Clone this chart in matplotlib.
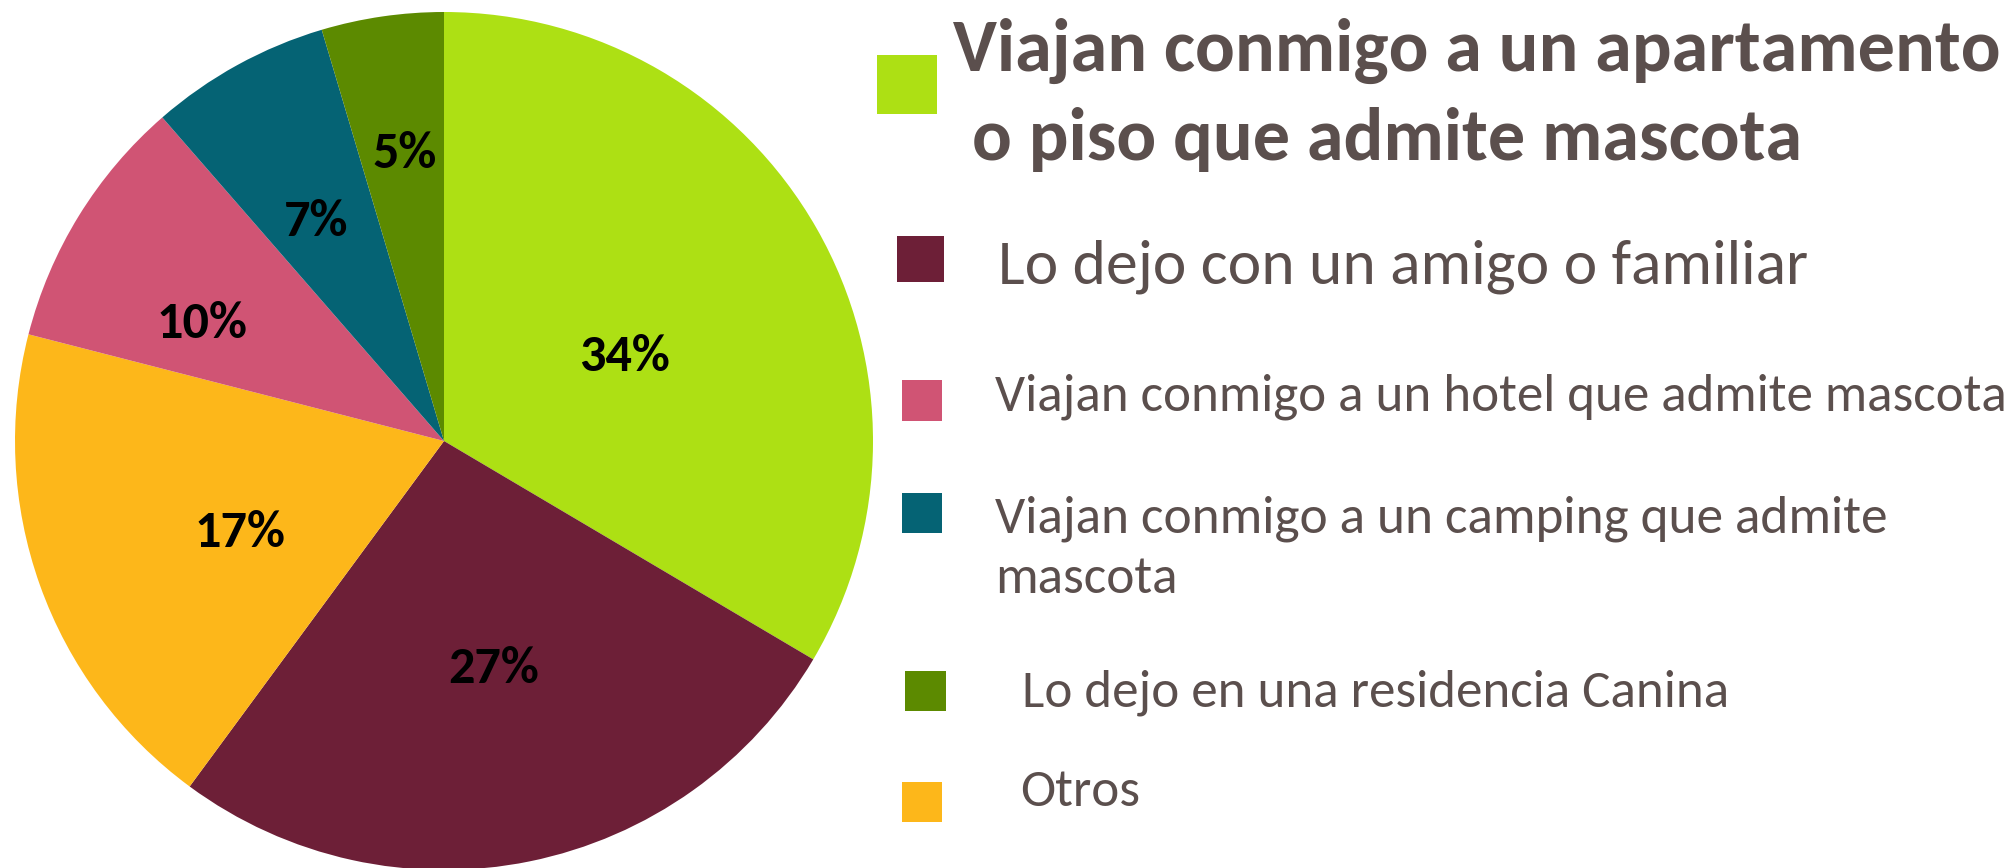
import matplotlib
matplotlib.use("Agg")
import matplotlib.pyplot as plt
from matplotlib.patches import Rectangle
import numpy as np

# Data (pie order, clockwise from 12 o'clock)
categories = [
    "Viajan conmigo a un apartamento\no piso que admite mascota",
    "Lo dejo con un amigo o familiar",
    "Otros",
    "Viajan conmigo a un hotel que admite mascota",
    "Viajan conmigo a un camping que admite\nmascota",
    "Lo dejo en una residencia Canina",
]
values = [33.5, 26.6, 18.9, 9.6, 6.8, 4.6]
pct_labels = ["34%", "27%", "17%", "10%", "7%", "5%"]
colors = ["#ADE014", "#6D1F37", "#FDB71A", "#D05474", "#056374", "#5C8A00"]

# legend order (indices into categories)
legend_order = [0, 1, 3, 4, 5, 2]

W, H = 2016, 868
fig = plt.figure(figsize=(W / 100, H / 100), dpi=100)
fig.patch.set_facecolor("white")
renderer = fig.canvas.get_renderer()

FONT = ["Carlito", "DejaVu Sans"]

cx, cy, R = 444, 441, 429
ax = fig.add_axes([(cx - R) / W, (H - cy - R) / H, 2 * R / W, 2 * R / H])
wedges, _ = ax.pie(values, colors=colors, startangle=90, counterclock=False,
                   wedgeprops=dict(linewidth=0))
ax.set_aspect("equal")
ax.set_xlim(-1, 1)
ax.set_ylim(-1, 1)
ax.axis("off")

# label placement: radius fraction and angular offset from wedge middle (deg)
label_r = [0.466, 0.538, 0.52, 0.63, 0.595, 0.68]
label_dang = [-4.1, 0.9, 3.9, 5.4, 1.2, -0.6]
digit_half = 16.5 / R  # half digit height in data units
for w, lab, r, da in zip(wedges, pct_labels, label_r, label_dang):
    ang = np.deg2rad((w.theta1 + w.theta2) / 2 + da)
    ax.text(r * np.cos(ang), r * np.sin(ang) - digit_half, lab, ha="center",
            va="baseline", fontsize=37.5, fontweight="bold", family=FONT,
            color="black")

txt_color = "#5B4F4D"

# legend squares (x0, y0, x1, y1) in px from top-left
squares = [
    (877, 55, 937, 114),
    (897, 236, 944, 282),
    (902, 380, 942, 421),
    (902, 493, 942, 533),
    (905, 671, 946, 711),
    (902, 782, 942, 822),
]
# per entry: list of (x, baseline y) per line, target width of first line (px), weight
text_lines = [
    [(953, 71), (972, 160)],
    [(998, 283)],
    [(995, 410)],
    [(995, 533), (995, 593)],
    [(1022, 707)],
    [(1020, 806)],
]
target_w = [1046, 808, 1011, 892, 706, None]
weights = ["bold", "normal", "normal", "normal", "normal", "normal"]

last_fs = 40
for k, idx in enumerate(legend_order):
    x0, y0, x1, y1 = squares[k]
    fig.patches.append(Rectangle((x0 / W, 1 - y1 / H), (x1 - x0) / W, (y1 - y0) / H,
                                 transform=fig.transFigure, facecolor=colors[idx],
                                 edgecolor="none"))
    lines = categories[idx].split("\n")
    texts = []
    for line, (tx, ty) in zip(lines, text_lines[k]):
        texts.append(fig.text(tx / W, 1 - ty / H, line, ha="left", va="baseline",
                              fontsize=40, fontweight=weights[k], color=txt_color,
                              family=FONT))
    if target_w[k] is not None:
        wcur = texts[0].get_window_extent(renderer).width
        fs = 40 * target_w[k] / wcur
    else:
        fs = last_fs
    for t in texts:
        t.set_fontsize(fs)
    last_fs = fs

fig.savefig("out.png", dpi=100, facecolor="white")
